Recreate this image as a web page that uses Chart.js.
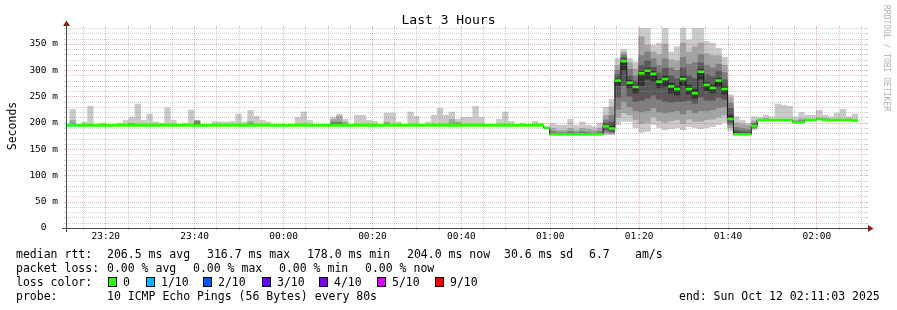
<!DOCTYPE html>
<html>
<head>
<meta charset="utf-8">
<script src="https://cdn.jsdelivr.net/npm/chart.js@4.4.1/dist/chart.umd.min.js"></script>
<style>
html,body{margin:0;padding:0;background:#ffffff;}
canvas{display:block;}
</style>
</head>
<body>
<canvas id="chart" width="897" height="310"></canvas>
<script>
// ---------------- data ----------------
const TITLE = 'Last 3 Hours';
const Y_TITLE = 'Seconds';
const WATERMARK = 'RRDTOOL / TOBI OETIKER';
const PLOT_START = '23:11:03';      // clock time at left edge of plot
const PLOT_SECONDS = 10800;         // 3 hours
const SAMPLE_STEP = 80;             // seconds per sample
const FIRST_SAMPLE_CENTER = 10;     // seconds after PLOT_START

const xTickLabels = ['23:20','23:40','00:00','00:20','00:40','01:00','01:20','01:40','02:00'];
const yTickValues = [0, 50, 100, 150, 200, 250, 300, 350];
const yTickLabels = ['0  ', '50 m', '100 m', '150 m', '200 m', '250 m', '300 m', '350 m'];
const Y_MAX = 380;

// median RTT per 80 s sample (ms)
const median = [
195,195,195,195,195,195,195,195,195,195,
195,195,195,195,195,195,195,195,195,195,
195,195,195,195,195,195,195,195,195,195,
195,195,195,195,195,195,195,195,195,195,
195,195,195,195,195,195,195,195,195,195,
195,195,195,195,195,195,195,195,195,195,
195,195,195,195,195,195,195,195,195,195,
195,195,195,195,195,195,195,195,195,195,
195,190,178,178,178,178,178,178,178,178,
178,193,189,280,317,276,268,294,299,293,
278,283,269,264,283,264,256,297,272,266,
280,264,207,178,178,178,194,205,205,205,
205,205,205,201,201,205,205,207,205,205,
205,205,205,204];

// sorted pings: low side (1 = fastest) ... high side (1 = slowest), ms
const pingLow1 = [
195,195,195,195,195,195,195,195,195,195,
195,195,195,195,195,195,195,195,195,195,
195,195,195,195,195,195,195,195,195,195,
195,195,195,195,195,195,195,195,195,195,
195,195,195,195,195,195,195,195,195,195,
195,195,195,195,195,195,195,195,195,195,
195,195,195,195,195,195,195,195,195,195,
195,195,195,195,195,195,195,195,195,195,
195,190,178,178,178,178,178,178,178,178,
178,177,177,196,202,202,190,181,183,196,
190,186,188,190,186,192,190,188,190,192,
196,200,184,178,178,178,186,205,205,205,
205,205,205,201,201,205,205,207,205,205,
205,205,205,204];
const pingLow2 = [
195,195,195,195,195,195,195,195,195,195,
195,195,195,195,195,195,195,195,195,195,
195,195,195,195,195,195,195,195,195,195,
195,195,195,195,195,195,195,195,195,195,
195,195,195,195,195,195,195,195,195,195,
195,195,195,195,195,195,195,195,195,195,
195,195,195,195,195,195,195,195,195,195,
195,195,195,195,195,195,195,195,195,195,
195,190,178,178,178,178,178,178,178,178,
178,179,178,209,218,214,205,198,200,210,
203,200,203,205,198,206,202,202,205,206,
210,214,190,178,178,178,188,205,205,205,
205,205,205,201,201,205,205,207,205,205,
205,205,205,204];
const pingLow3 = [
195,195,195,195,195,195,195,195,195,195,
195,195,195,195,195,195,195,195,195,195,
195,195,195,195,195,195,195,195,195,195,
195,195,195,195,195,195,195,195,195,195,
195,195,195,195,195,195,195,195,195,195,
195,195,195,195,195,195,195,195,195,195,
195,195,195,195,195,195,195,195,195,195,
195,195,195,195,195,195,195,195,195,195,
195,190,178,178,178,178,178,178,178,178,
178,182,180,225,240,230,222,220,222,228,
220,218,220,222,216,224,218,222,222,224,
228,230,196,178,178,178,190,205,205,205,
205,205,205,201,201,205,205,207,205,205,
205,205,205,204];
const pingLow4 = [
195,195,195,195,195,195,195,195,195,195,
195,195,195,195,195,195,195,195,195,195,
195,195,195,195,195,195,195,195,195,195,
195,195,195,195,195,195,195,195,195,195,
195,195,195,195,195,195,195,195,195,195,
195,195,195,195,195,195,195,195,195,195,
195,195,195,195,195,195,195,195,195,195,
195,195,195,195,195,195,195,195,195,195,
195,190,178,178,178,178,178,178,178,178,
178,186,183,248,270,250,240,242,246,252,
244,240,238,240,240,242,236,248,242,242,
248,244,200,178,178,178,192,205,205,205,
205,205,205,201,201,205,205,207,205,205,
205,205,205,204];
const pingLow5 = [
195,195,195,195,195,195,195,195,195,195,
195,195,195,195,195,195,195,195,195,195,
195,195,195,195,195,195,195,195,195,195,
195,195,195,195,195,195,195,195,195,195,
195,195,195,195,195,195,195,195,195,195,
195,195,195,195,195,195,195,195,195,195,
195,195,195,195,195,195,195,195,195,195,
195,195,195,195,195,195,195,195,195,195,
195,190,178,178,178,178,178,178,178,178,
178,190,186,270,300,266,256,270,282,278,
266,268,256,252,270,254,246,282,260,256,
268,254,204,178,178,178,193,205,205,205,
205,205,205,201,201,205,205,207,205,205,
205,205,205,204];
const pingHigh5 = [
195,195,195,195,195,195,195,195,195,195,
195,195,195,195,195,195,195,195,195,195,
195,195,195,195,195,195,195,195,195,195,
195,195,195,195,195,195,195,195,195,195,
195,195,195,195,195,195,195,195,195,195,
195,195,195,195,195,195,195,195,195,195,
195,195,195,195,195,195,195,195,195,195,
195,195,195,195,195,195,195,195,195,195,
195,190,178,178,178,178,178,178,178,178,
178,196,194,284,320,281,272,298,304,298,
283,290,276,270,290,272,264,302,278,272,
285,270,215,181,180,180,196,205,205,205,
205,205,205,201,201,205,205,207,205,205,
205,205,205,204];
const pingHigh4 = [
195,195,195,195,195,195,195,195,195,195,
195,195,195,195,195,195,195,195,195,195,
195,195,195,195,195,195,195,195,195,195,
195,195,195,195,195,195,195,195,195,195,
195,195,195,195,195,195,195,195,195,195,
195,195,195,195,195,195,195,195,195,195,
195,195,195,195,195,195,195,195,195,195,
195,195,195,195,195,195,195,195,195,195,
195,190,180,180,180,181,180,181,180,179,
181,200,202,292,325,290,280,310,318,306,
295,304,290,284,305,290,285,314,292,288,
298,282,228,186,184,183,198,205,205,205,
205,205,205,201,201,205,205,207,205,205,
205,205,205,204];
const pingHigh3 = [
195,195,195,195,195,195,195,195,195,195,
195,198,195,195,195,195,195,195,195,195,
195,195,203,195,195,195,195,195,195,195,
195,195,195,195,195,195,195,195,195,195,
195,195,195,195,195,202,202,195,195,195,
195,195,195,195,195,195,195,195,195,195,
195,195,195,195,195,195,195,195,195,195,
195,195,195,195,195,195,195,195,195,195,
195,190,184,182,182,184,182,184,182,181,
184,206,214,300,330,302,290,328,335,322,
310,322,305,300,325,312,315,330,310,305,
312,296,238,192,190,188,200,206,207,206,
206,206,206,203,205,206,206,208,206,206,
206,206,206,205];
const pingHigh2 = [
196,205,196,196,196,196,196,196,196,196,
196,199,196,196,196,196,196,196,196,196,
196,196,205,196,196,196,196,196,196,196,
196,203,196,196,196,196,196,196,196,196,
196,196,196,196,196,207,213,202,196,196,
196,196,196,196,202,196,196,196,196,196,
196,196,196,196,196,207,202,196,196,196,
196,196,196,196,196,196,196,196,196,196,
196,191,190,186,186,190,186,190,188,186,
190,215,231,310,335,315,303,364,348,335,
330,350,320,318,352,335,345,352,332,328,
328,310,248,200,198,196,204,207,209,206,
206,206,206,205,208,206,206,210,209,206,
206,206,208,205];
const pingHigh1 = [
197,226,197,202,232,197,200,197,197,200,
205,211,236,205,217,202,200,229,205,197,
200,225,205,197,197,203,202,202,203,217,
202,224,213,205,202,197,198,197,197,211,
221,205,197,197,197,211,217,207,198,215,
215,205,203,197,219,219,202,197,221,213,
197,202,215,228,215,221,207,211,211,232,
211,197,197,207,221,203,197,200,197,203,
200,193,199,196,196,207,196,202,196,193,
200,230,245,323,340,323,316,380,380,348,
352,380,335,345,380,358,380,380,355,352,
342,325,254,212,205,199,212,211,215,212,
236,234,232,212,220,215,215,224,215,212,
219,226,212,217];

// legend texts
const RTT_LABEL = 'median rtt:';
const RTT_STATS = ['206.5 ms avg', '316.7 ms max', '178.0 ms min', '204.0 ms now', '30.6 ms sd', '6.7', 'am/s'];
const LOSS_LABEL = 'packet loss:';
const LOSS_STATS = ['0.00 % avg', '0.00 % max', '0.00 % min', '0.00 % now'];
const COLOR_LABEL = 'loss color:';
const LOSS_LABELS = ['0', '1/10', '2/10', '3/10', '4/10', '5/10', '9/10'];
const LOSS_COLORS = ['#26ff00', '#00b8ff', '#0059ff', '#5e00ff', '#7e00ff', '#dd00ff', '#ff0000'];
const PROBE_LABEL = 'probe:';
const PROBE_TEXT = '10 ICMP Echo Pings (56 Bytes) every 80s';
const END_TEXT = 'end: Sun Oct 12 02:11:03 2025';

// ---------------- layout / style ----------------
const MONO = '"DejaVu Sans Mono", "Liberation Mono", monospace';
const SMOKE_COLORS = ['#cacaca', '#a4a4a4', '#7e7e7e', '#585858', '#323232'];
const GRID = 'rgba(140,140,140,0.42)';
const MGRID = 'rgba(200,45,45,0.36)';
const AXIS = '#4a4a4a';
const ARROW = '#8b1c1c';
const GREEN_HALF = 2.5; // half thickness of median bar (ms)
const RTT_X = [107, 207, 307, 407, 504, 589, 635];
const LOSS_X = [107, 193, 279, 365];
const BOX_X = [108, 146, 203, 262, 319, 377, 435];

function clockSec(s) { const p = s.split(':').map(Number); return p[0]*3600 + p[1]*60 + (p[2] || 0); }
const startSec = clockSec(PLOT_START);
function offsetOf(label) { let t = clockSec(label) - startSec; if (t < 0) t += 86400; return t; }
const xMajorValues = xTickLabels.map(offsetOf);
const xGridValues = [];
for (let v = xMajorValues[0] % 300; v <= PLOT_SECONDS; v += 300) xGridValues.push(v);
const yGridValues = [];
for (let v = 0; v <= Y_MAX; v += 10) yGridValues.push(v);

const xs = median.map((_, j) => FIRST_SAMPLE_CENTER + j * SAMPLE_STEP);

const lows = [pingLow1, pingLow2, pingLow3, pingLow4, pingLow5];
const highs = [pingHigh1, pingHigh2, pingHigh3, pingHigh4, pingHigh5];
const barCommon = { type: 'bar', borderWidth: 0, grouped: false, barPercentage: 1.06, categoryPercentage: 1, inflateAmount: 0, clip: 0 };

const datasets = lows.map((lo, k) => Object.assign({}, barCommon, {
  label: 'smoke' + (k + 1),
  data: xs.map((x, j) => highs[k][j] > lo[j] ? { x: x, y: [lo[j], highs[k][j]] } : null).filter(Boolean),
  backgroundColor: SMOKE_COLORS[k],
  order: 20 - k
}));
datasets.push({
  type: 'line', label: 'median-step',
  data: xs.map((x, j) => ({ x: x, y: median[j] })),
  stepped: 'middle', borderColor: '#1a1a1a', borderWidth: 1, pointRadius: 0, fill: false, order: 2, clip: 0
});
datasets.push(Object.assign({}, barCommon, {
  label: 'median',
  data: xs.map((x, j) => ({ x: x, y: [median[j] - GREEN_HALF, median[j] + GREEN_HALF] })),
  backgroundColor: LOSS_COLORS[0], order: 1
}));

function drawGrid(chart) {
  const { ctx, chartArea: a, scales: { x, y } } = chart;
  ctx.save();
  ctx.lineWidth = 1;
  for (const majorPass of [false, true]) {
    x.ticks.forEach(t => {
      const major = xMajorValues.indexOf(t.value) >= 0;
      if (major !== majorPass) return;
      const px = Math.floor(x.getPixelForValue(t.value)) + 0.5;
      if (px < a.left || px > a.right) return;
      ctx.strokeStyle = major ? MGRID : GRID;
      ctx.setLineDash([]);
      ctx.beginPath();
      ctx.moveTo(px, a.top - 2); ctx.lineTo(px, a.top);
      ctx.moveTo(px, a.bottom); ctx.lineTo(px, a.bottom + 2);
      ctx.stroke();
      ctx.setLineDash([1, 1]);
      ctx.beginPath(); ctx.moveTo(px, a.bottom); ctx.lineTo(px, a.top); ctx.stroke();
    });
    y.ticks.forEach(t => {
      const major = yTickValues.indexOf(t.value) >= 0;
      if (major !== majorPass) return;
      const py = Math.round(y.getPixelForValue(t.value)) + 0.5;
      ctx.strokeStyle = major ? MGRID : GRID;
      ctx.setLineDash([]);
      ctx.beginPath();
      ctx.moveTo(a.left - 2, py); ctx.lineTo(a.left, py);
      ctx.moveTo(a.right, py); ctx.lineTo(a.right + 2, py);
      ctx.stroke();
      ctx.setLineDash([1, 1]);
      ctx.beginPath(); ctx.moveTo(a.left, py); ctx.lineTo(a.right + (major ? 2 : 1), py); ctx.stroke();
    });
  }
  ctx.restore();
}

function drawAxesAndText(chart) {
  const { ctx, chartArea: a } = chart;
  ctx.save();
  // axes
  ctx.strokeStyle = AXIS; ctx.lineWidth = 1; ctx.setLineDash([]);
  ctx.beginPath();
  ctx.moveTo(a.left - 4, a.bottom + 0.5); ctx.lineTo(a.right + 4, a.bottom + 0.5);
  ctx.moveTo(a.left + 0.5, a.bottom + 4); ctx.lineTo(a.left + 0.5, a.top - 4);
  ctx.stroke();
  ctx.fillStyle = ARROW;
  ctx.beginPath();
  ctx.moveTo(a.left - 3, a.top - 2); ctx.lineTo(a.left + 4, a.top - 2); ctx.lineTo(a.left + 0.5, a.top - 7.5);
  ctx.closePath(); ctx.fill();
  ctx.beginPath();
  ctx.moveTo(a.right + 2, a.bottom - 3); ctx.lineTo(a.right + 2, a.bottom + 4); ctx.lineTo(a.right + 7.5, a.bottom + 0.5);
  ctx.closePath(); ctx.fill();

  // title
  ctx.fillStyle = '#000';
  ctx.textBaseline = 'alphabetic';
  ctx.font = '13px ' + MONO;
  ctx.textAlign = 'center';
  ctx.fillText(TITLE, 448.5, 24);

  // y title
  ctx.save();
  ctx.translate(15.5, 126);
  ctx.rotate(-Math.PI / 2);
  ctx.font = '11.5px ' + MONO;
  ctx.textAlign = 'center';
  ctx.fillText(Y_TITLE, 0, 0);
  ctx.restore();

  // watermark
  ctx.save();
  ctx.translate(883.5, 5);
  ctx.rotate(Math.PI / 2);
  ctx.font = '8px ' + MONO;
  ctx.fillStyle = '#b0b0b0';
  ctx.textAlign = 'left';
  ctx.fillText(WATERMARK, 0, 0);
  ctx.restore();

  // legend
  ctx.font = '11.5px ' + MONO;
  ctx.textAlign = 'left';
  ctx.fillStyle = '#000';
  const rows = [258, 272, 286, 300];
  ctx.fillText(RTT_LABEL, 16, rows[0]);
  RTT_X.forEach((x, i) => ctx.fillText(RTT_STATS[i], x, rows[0]));
  ctx.fillText(LOSS_LABEL, 16, rows[1]);
  LOSS_X.forEach((x, i) => ctx.fillText(LOSS_STATS[i], x, rows[1]));
  ctx.fillText(COLOR_LABEL, 16, rows[2]);
  BOX_X.forEach((x, i) => {
    ctx.fillStyle = LOSS_COLORS[i];
    ctx.fillRect(x, rows[2] - 9, 9, 10);
    ctx.strokeStyle = '#000';
    ctx.strokeRect(x + 0.5, rows[2] - 8.5, 8, 9);
    ctx.fillStyle = '#000';
    ctx.fillText(LOSS_LABELS[i], x + 15, rows[2]);
  });
  ctx.fillText(PROBE_LABEL, 16, rows[3]);
  ctx.fillText(PROBE_TEXT, 107, rows[3]);
  ctx.fillText(END_TEXT, 679, rows[3]);
  ctx.restore();
}

const rrdPlugin = {
  id: 'rrdDecor',
  afterDatasetsDraw(chart) { drawGrid(chart); },
  afterDraw(chart) { drawAxesAndText(chart); }
};

new Chart(document.getElementById('chart'), {
  type: 'bar',
  data: { datasets: datasets },
  plugins: [rrdPlugin],
  options: {
    responsive: false,
    devicePixelRatio: 1,
    animation: false,
    events: [],
    layout: { padding: { left: 0, right: 31, top: 28, bottom: 62 } },
    plugins: { legend: { display: false }, tooltip: { enabled: false }, title: { display: false } },
    scales: {
      x: {
        type: 'linear', min: 0, max: PLOT_SECONDS, offset: false,
        grid: { display: false, drawTicks: false, offset: false },
        border: { display: false },
        afterBuildTicks: s => { s.ticks = xGridValues.map(v => ({ value: v })); },
        afterFit: s => { s.height = 20; },
        ticks: {
          autoSkip: false, maxRotation: 0, minRotation: 0, padding: 3, color: '#000',
          font: { family: MONO, size: 9.5 },
          callback: v => { const i = xMajorValues.indexOf(v); return i < 0 ? '' : xTickLabels[i]; }
        }
      },
      y: {
        type: 'linear', min: 0, max: Y_MAX,
        grid: { display: false, drawTicks: false },
        border: { display: false },
        afterBuildTicks: s => { s.ticks = yGridValues.map(v => ({ value: v })); },
        afterFit: s => { s.width = 66; },
        ticks: {
          autoSkip: false, padding: 8, color: '#000',
          font: { family: MONO, size: 9.5 },
          callback: v => { const i = yTickValues.indexOf(v); return i < 0 ? '' : yTickLabels[i]; }
        }
      }
    }
  }
});
</script>
</body>
</html>
